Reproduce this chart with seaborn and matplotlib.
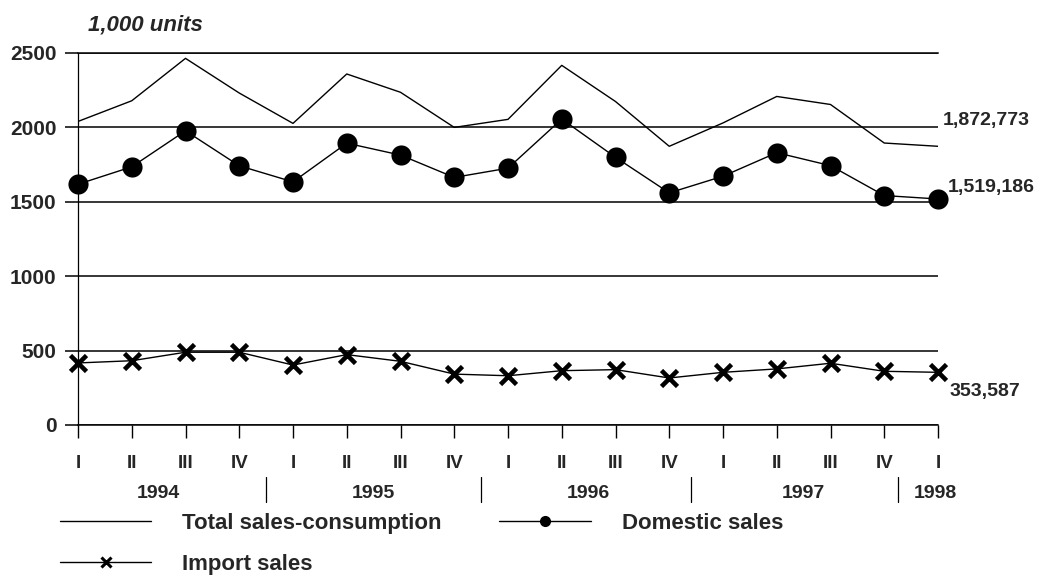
import pandas as pd
import numpy as np
import matplotlib
matplotlib.use("Agg")
import matplotlib.pyplot as plt
from matplotlib.lines import Line2D
import seaborn as sns

# quarterly data, 1994 I .. 1998 I (1,000 units)
quarters = ['I', 'II', 'III', 'IV'] * 4 + ['I']
years = ['1994', '1995', '1996', '1997', '1998']
total_sales = [2040, 2179, 2464, 2231, 2027, 2359, 2236, 2000, 2054,
               2417, 2174, 1873, 2030, 2208, 2154, 1895, 1873]
domestic_sales = [1618, 1735, 1977, 1742, 1634, 1894, 1814, 1664, 1726,
                  2056, 1799, 1560, 1672, 1830, 1743, 1542, 1519]
import_sales = [417, 432, 489, 489, 403, 473, 428, 342, 331,
                365, 372, 316, 354, 377, 415, 361, 354]
end_labels = ['1,872,773', '1,519,186', '353,587']
series_names = ['Total sales-consumption', 'Domestic sales', 'Import sales']

df = pd.DataFrame({'period': np.arange(len(quarters)),
                   'total': total_sales,
                   'domestic': domestic_sales,
                   'import': import_sales})

sns.set_style('white')
plt.rcParams['font.family'] = ['Liberation Sans', 'DejaVu Sans']
plt.rcParams['font.weight'] = 'bold'

fig = plt.figure(figsize=(10.37, 5.75), dpi=100)
ax = fig.add_axes([78 / 1037, 1 - 425 / 575, 860 / 1037, 372 / 575])

sns.lineplot(data=df, x='period', y='total', ax=ax, color='black', lw=1.0, zorder=3)
sns.lineplot(data=df, x='period', y='domestic', ax=ax, color='black', lw=1.0,
             marker='o', markersize=14.5, markeredgewidth=0, zorder=4, clip_on=False)
sns.lineplot(data=df, x='period', y='import', ax=ax, color='black', lw=1.0,
             marker='x', markersize=12, markeredgewidth=3.3, markeredgecolor='black',
             zorder=4, clip_on=False)

ax.set_xlim(0, 16)
ax.set_ylim(0, 2500)
ax.set_xlabel('')
ax.set_ylabel('')
ax.set_yticks([0, 500, 1000, 1500, 2000, 2500])
ax.set_xticks(df['period'])
ax.set_xticklabels(quarters, fontsize=13.5)
ax.tick_params(axis='y', length=9.4, width=1.1, color='black', pad=6, labelsize=15,
               direction='out', left=True)
ax.tick_params(axis='x', length=9.4, width=1.0, color='black', pad=12,
               direction='out', bottom=True)
ax.yaxis.grid(True, color='black', lw=1.1)
ax.set_axisbelow(True)
for side in ['top', 'bottom']:
    ax.spines[side].set_linewidth(1.1)
    ax.spines[side].set_color('black')
ax.spines['left'].set_linewidth(0.9)
ax.spines['left'].set_color('black')
ax.spines['right'].set_visible(False)

# year labels and separators under the quarter ticks
trans = ax.get_xaxis_transform()
for x, yr in zip([1.5, 5.5, 9.5, 13.5, 15.95], years):
    ax.text(x, -0.183, yr, transform=trans, ha='center', va='center', fontsize=14)
for x in [3.5, 7.5, 11.4, 15.25]:
    ax.plot([x, x], [-0.14, -0.207], transform=trans, color='black', lw=0.9,
            clip_on=False)

# values at the last quarter
last = len(quarters) - 1
offsets = [(3.6, 18.7), (7, 8.6), (8, -14)]
for vals, lab, off in zip([total_sales, domestic_sales, import_sales], end_labels, offsets):
    ax.annotate(lab, (last, vals[-1]), xytext=off, textcoords='offset points',
                ha='left', va='center', fontsize=14, annotation_clip=False)

fig.text(88 / 1037, 1 - 24.5 / 575, '1,000 units', fontsize=16, style='italic',
         ha='left', va='center')

handles = [Line2D([], [], color='black', lw=1.0),
           Line2D([], [], color='black', lw=1.0, marker='x', markersize=6.5,
                  markeredgewidth=2.2),
           Line2D([], [], color='black', lw=1.0, marker='o', markersize=7)]
labels = [series_names[0], series_names[2], series_names[1]]
fig.legend(handles, labels, ncol=2, loc='upper left',
           bbox_to_anchor=(60 / 1037, 1 - 513 / 575), frameon=False, fontsize=16,
           handlelength=4.1, handletextpad=1.4, columnspacing=2.6,
           borderpad=0, borderaxespad=0, labelspacing=0.9)

fig.savefig('out.png', dpi=100)
